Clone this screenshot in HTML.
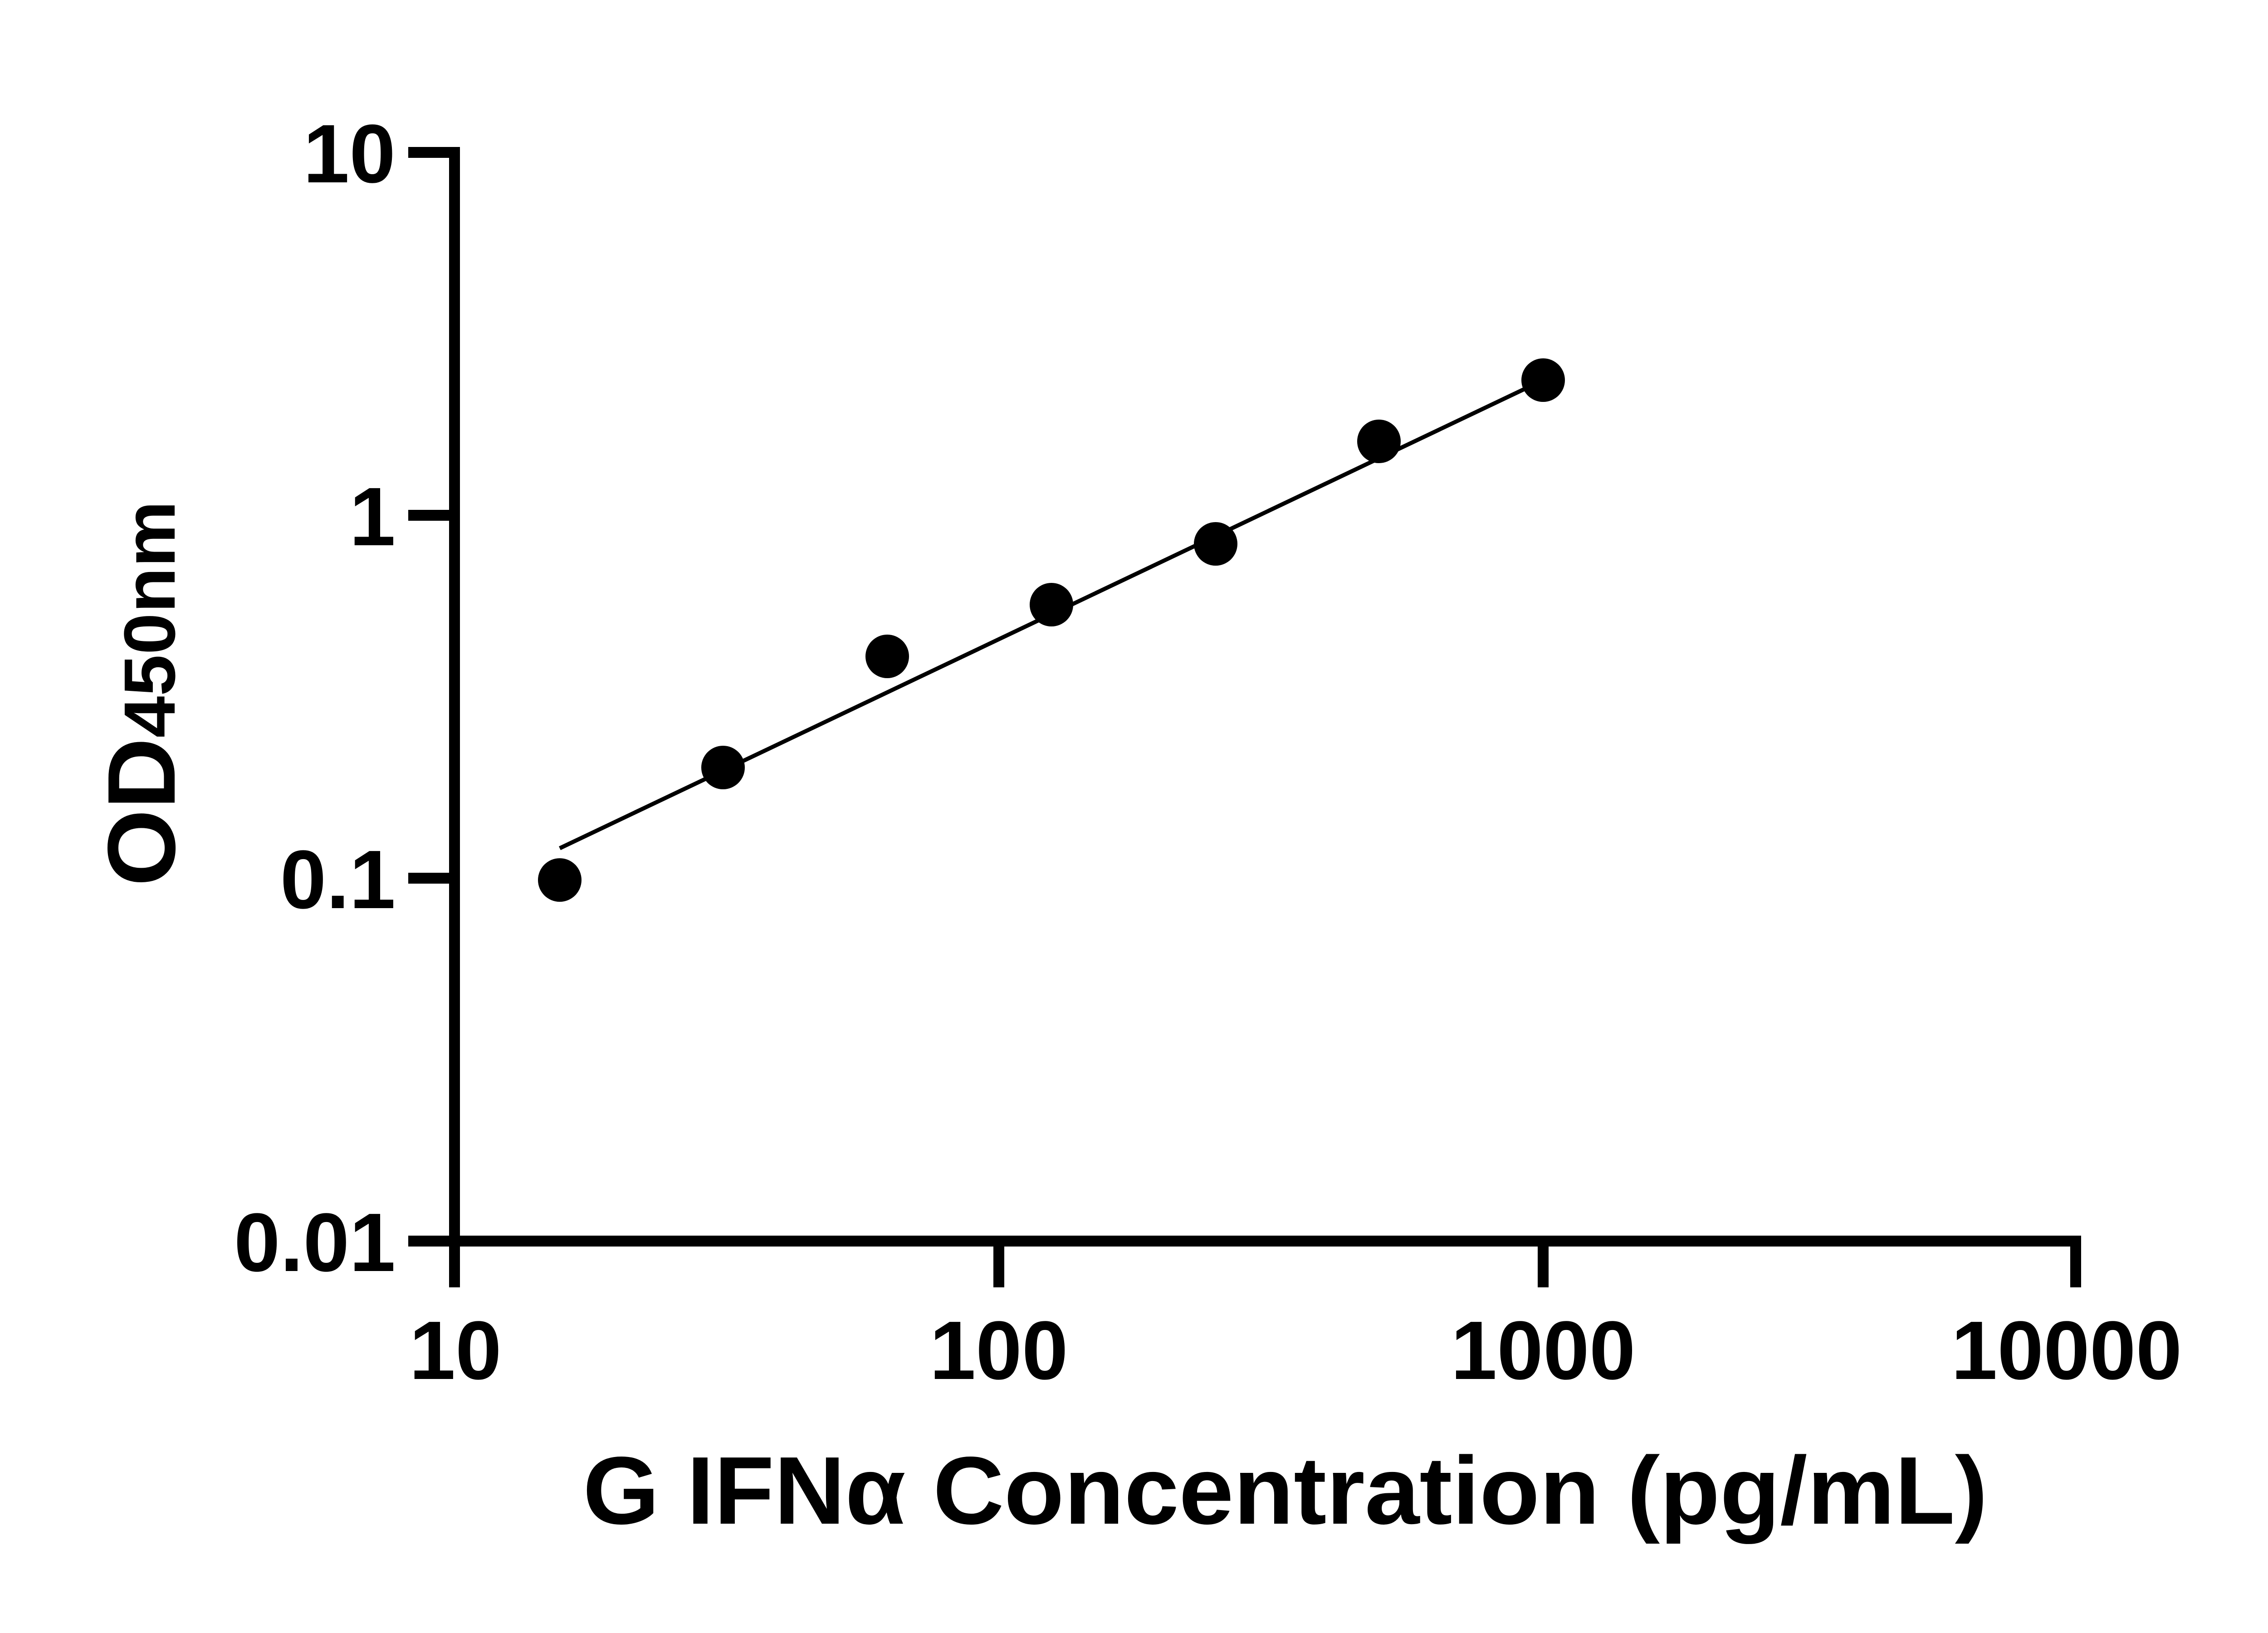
<!DOCTYPE html>
<html><head><meta charset="utf-8"><style>html,body{margin:0;padding:0;background:#fff}svg{display:block}</style></head>
<body>
<svg width="5154" height="3600" viewBox="0 0 5154 3600" xmlns="http://www.w3.org/2000/svg">
<rect width="5154" height="3600" fill="#fff"/>
<g fill="#000">
<rect x="990" y="324" width="24" height="2514"/>
<rect x="990" y="2724" width="3598" height="24"/>
<rect x="900" y="324" width="114" height="24"/>
<rect x="900" y="1124" width="114" height="24"/>
<rect x="900" y="1924" width="114" height="24"/>
<rect x="900" y="2724" width="114" height="24"/>
<rect x="2190" y="2724" width="24" height="114"/>
<rect x="3390" y="2724" width="24" height="114"/>
<rect x="4564" y="2724" width="24" height="114"/>
</g>
<line x1="1234" y1="1870" x2="3402" y2="838" stroke="#000" stroke-width="9"/>
<g fill="#000">
<circle cx="1234" cy="1940" r="48"/>
<circle cx="1594" cy="1692" r="48"/>
<circle cx="1956" cy="1447" r="48"/>
<circle cx="2318" cy="1333" r="48"/>
<circle cx="2680" cy="1199" r="48"/>
<circle cx="3040" cy="973" r="48"/>
<circle cx="3402" cy="838" r="48"/>
</g>
<g font-family="Liberation Sans, sans-serif" font-weight="bold" font-size="183" fill="#000">
<g text-anchor="end">
<text x="872" y="402">10</text>
<text x="872" y="1202">1</text>
<text x="872" y="2002">0.1</text>
<text x="872" y="2802">0.01</text>
</g>
<g text-anchor="middle">
<text x="1004" y="3040">10</text>
<text x="2202" y="3040">100</text>
<text x="3402" y="3040">1000</text>
<text x="4556" y="3040">10000</text>
</g>
<text x="1285" y="3359" font-size="212" textLength="3097" lengthAdjust="spacingAndGlyphs">G IFNα Concentration (pg/mL)</text>
<text transform="translate(385,1954) rotate(-90)" font-size="212" textLength="850" lengthAdjust="spacingAndGlyphs">OD<tspan font-size="160">450nm</tspan></text>
</g>
</svg>
</body></html>
